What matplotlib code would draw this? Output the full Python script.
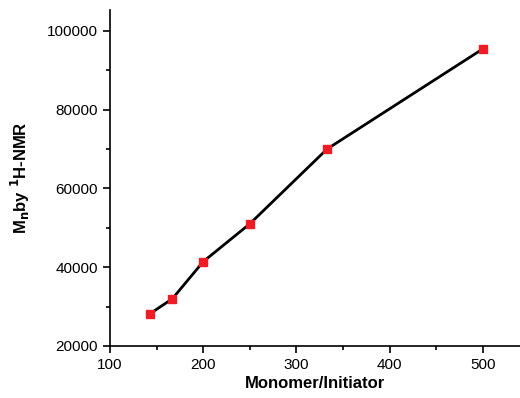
import matplotlib
matplotlib.use("Agg")
import matplotlib.pyplot as plt
from matplotlib.ticker import MultipleLocator

plt.rcParams['font.family'] = ['Liberation Sans', 'DejaVu Sans']

# Monomer/Initiator ratio vs Mn by 1H-NMR
ratio = [143, 167, 200, 250, 333, 500]
mn = [28200, 32000, 41400, 51000, 70000, 95400]

fig = plt.figure(figsize=(5.2, 3.98), dpi=100)
ax = fig.add_axes([0.2115, 0.1307, 0.7885, 0.8443])

ax.plot(ratio, mn, color="black", linewidth=2, zorder=2)
ax.plot(ratio, mn, linestyle="none", marker="s", markersize=5.5,
        color="#ee1c25", zorder=3)

ax.set_xlim(100, 540)
ax.set_ylim(20000, 105300)
ax.xaxis.set_major_locator(MultipleLocator(100))
ax.xaxis.set_minor_locator(MultipleLocator(50))
ax.yaxis.set_major_locator(MultipleLocator(20000))
ax.yaxis.set_minor_locator(MultipleLocator(10000))

for side in ["top", "right"]:
    ax.spines[side].set_visible(False)
for side in ["left", "bottom"]:
    ax.spines[side].set_linewidth(1.2)

ax.tick_params(which="major", direction="out", length=5, width=1.2, labelsize=11)
ax.tick_params(which="minor", direction="out", length=3, width=1.2)

ax.set_xlabel("Monomer/Initiator", fontsize=12, fontweight="bold", labelpad=3)
ax.set_ylabel(r"M$_\mathbf{n}$by $^\mathbf{1}$H-NMR", fontsize=12,
              fontweight="bold", labelpad=11)

fig.savefig("out.png", dpi=100)
